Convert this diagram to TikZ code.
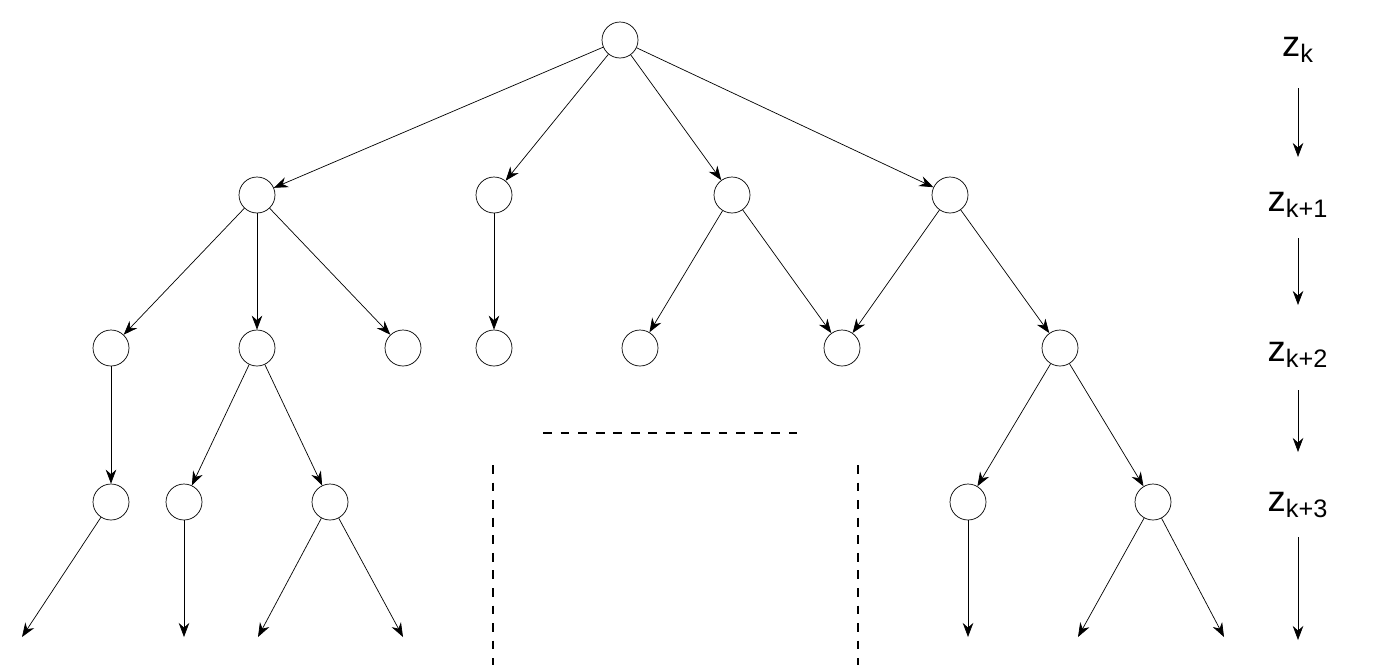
\documentclass[tikz,border=0pt]{standalone}
\usepackage{fontspec}
\setsansfont{Liberation Sans}
\usetikzlibrary{positioning, arrows.meta}

\begin{document}
\begin{tikzpicture}[x=0.02cm,y=-0.02cm,
    state/.style={draw, circle, minimum size=0.72cm, inner sep=0pt},
    edge/.style={-{Stealth[length=8pt,width=6pt]}},
    gap/.style={line width=1.6pt, dash pattern=on 5pt off 5pt},
    every node/.style={font=\sffamily\huge}]
            \useasboundingbox (0,0) rectangle (1378,670);
            % tree
            \node[state] (r) at (620,40) {};
            \foreach \x in {257,494,732,950} {
                \node[state] (a\x) at (\x,195) {};
            }
            \foreach \x in {111,257,403,494,640,842,1060} {
                \node[state] (b\x) at (\x,348) {};
            }
            \foreach \x in {111,184,330,968,1153} {
                \node[state] (c\x) at (\x,502) {};
            }
            \foreach \x in {22,184,258,403,968,1078,1224} {
                \coordinate (e\x) at (\x,637);
            }

            \foreach \x in {257,494,732,950} {
                \draw[edge] (r) -- (a\x);
            }
            \draw[edge] (a257) -- (b111);
            \draw[edge] (a257) -- (b257);
            \draw[edge] (a257) -- (b403);
            \draw[edge] (a494) -- (b494);
            \draw[edge] (a732) -- (b640);
            \draw[edge] (a732) -- (b842);
            \draw[edge] (a950) -- (b842);
            \draw[edge] (a950) -- (b1060);

            \draw[edge] (b111) -- (c111);
            \draw[edge] (b257) -- (c184);
            \draw[edge] (b257) -- (c330);
            \draw[edge] (b1060) -- (c968);
            \draw[edge] (b1060) -- (c1153);

            \draw[edge] (c111) -- (e22);
            \draw[edge] (c184) -- (e184);
            \draw[edge] (c330) -- (e258);
            \draw[edge] (c330) -- (e403);
            \draw[edge] (c968) -- (e968);
            \draw[edge] (c1153) -- (e1078);
            \draw[edge] (c1153) -- (e1224);

            % dashed gap
            \draw[gap] (543,433) -- (797,433);
            \draw[gap] (493,465) -- (493,665);
            \draw[gap] (858,465) -- (858,665);

            % levels
            \node (zk) at (1298,50) {z\textsubscript{k}};
            \node (zk1) at (1298,205) {z\textsubscript{k+1}};
            \node (zk2) at (1298,355) {z\textsubscript{k+2}};
            \node (zk3) at (1298,505) {z\textsubscript{k+3}};
            \foreach \a/\b/\n in {88/157/1, 238/305/2, 390/452/3, 537/640/4} {
                \coordinate (s\n) at (1298,\a);
                \coordinate (t\n) at (1298,\b);
                \draw[edge] (s\n) -- (t\n);
            }
        \end{tikzpicture}
\end{document}
